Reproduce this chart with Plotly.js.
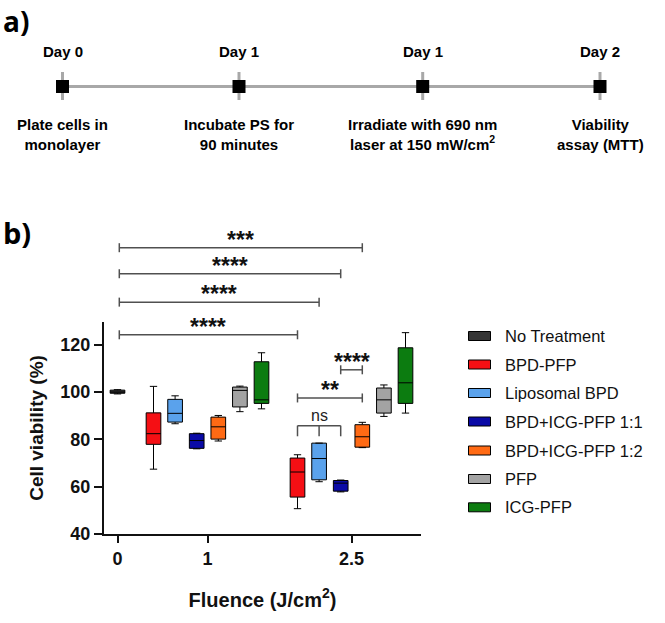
<!DOCTYPE html>
<html>
<head>
<meta charset="utf-8">
<script src="https://cdn.plot.ly/plotly-3.0.1.min.js"></script>
<style>html,body{margin:0;padding:0;background:#fff;}#chart{width:665px;height:623px;}</style>
</head>
<body>
<div id="chart"></div>
<script>
// ---------------- DATA ----------------
const fluenceLabels = ["0", "1", "2.5"];
const seriesNames = ["No Treatment", "BPD-PFP", "Liposomal BPD", "BPD+ICG-PFP 1:1", "BPD+ICG-PFP 1:2", "PFP", "ICG-PFP"];
// Which fluence each series was measured at (index into fluenceLabels)
const seriesFluences = [[0], [1, 2], [1, 2], [1, 2], [1, 2], [1, 2], [1, 2]];
// Five-number summaries of cell viability (%), one value per fluence listed above
const lowerWhisker = [[99.2], [67.4, 50.7], [86.6, 62.1], [76.0, 57.8], [79.3, 76.5], [91.7, 89.7], [92.9, 91.1]];
const quartile1    = [[99.5], [77.9, 55.6], [87.3, 62.9], [76.2, 58.1], [80.1, 76.7], [93.7, 91.1], [95.2, 95.2]];
const medians      = [[100.0], [82.4, 66.2], [91.0, 71.9], [79.5, 61.5], [85.3, 81.1], [100.7, 96.7], [96.7, 103.9]];
const quartile3    = [[100.8], [91.2, 72.1], [96.9, 78.4], [82.4, 62.6], [89.4, 86.2], [102.1, 101.7], [112.8, 118.7]];
const upperWhisker = [[101.0], [102.4, 73.5], [98.4, 78.4], [82.6, 62.8], [90.1, 87.2], [102.5, 103.0], [116.6, 125.1]];
// Significance comparisons: [seriesA, fluenceA], [seriesB, fluenceB], label
const sigFrom   = [[0, 0], [0, 0], [0, 0], [0, 0], [3, 2], [1, 2]];
const sigTo     = [[4, 2], [3, 2], [2, 2], [1, 2], [4, 2], [4, 2]];
const sigLabels = ["***", "****", "****", "****", "****", "**"];
const nsMembers = [[1, 2], [2, 2], [3, 2]];
const nsLabel = "ns";
// Timeline (panel a)
const timelineDays  = ["Day 0", "Day 1", "Day 1", "Day 2"];
const timelineSteps = ["Plate cells in<br>monolayer", "Incubate PS for<br>90 minutes", "Irradiate with 690 nm<br>laser at 150 mW/cm<sup>2</sup>", "Viability<br>assay (MTT)"];
const xTitle = "Fluence (J/cm<sup>2</sup>)";
const yTitle = "Cell viability (%)";
const yTicks = [40, 60, 80, 100, 120];

// ---------------- STYLE ----------------
const colors = ["#353535", "#f50f14", "#5aa2ec", "#0a0aa6", "#ff6a14", "#a3a3a3", "#0c7c10"];
const FONT = "Liberation Sans, Arial, sans-serif";
const W = 665, H = 623, L = 104, R = 421, T = 322, B = 534;
const slotPx = 21.6, originPx = 117.5, groupGap = 5 / 3;
const xRange = [(L - originPx) / slotPx, (R - originPx) / slotPx];
const yRange = [40, 129.6];
const bracketLevels = [161, 150, 138, 124.2, 109.4, 97.5];
const nsLevel = 85.8, nsDrop = 81.3;

// position (slot units) of a series at a fluence
function pos(s, f) {
  if (f === 0) return 0;
  const start = f === 1 ? groupGap : groupGap + 5 + groupGap;
  return start + (s - 1);
}
function groupCenter(f) { return f === 0 ? 0 : pos(1, f) + 2.5; }
const xp = v => (v - xRange[0]) / (xRange[1] - xRange[0]);
const yp = v => (v - yRange[0]) / (yRange[1] - yRange[0]);
const pxX = px => (px - L) / (R - L);
const pxY = py => (B - py) / (B - T);
const dyPx = px => px / (B - T);

// ---------------- TRACES ----------------
const traces = seriesNames.map((name, s) => ({
  type: "box",
  name: name,
  x: seriesFluences[s].map(f => pos(s, f)),
  q1: quartile1[s], median: medians[s], q3: quartile3[s],
  lowerfence: lowerWhisker[s], upperfence: upperWhisker[s],
  boxpoints: false,
  width: 0.68,
  whiskerwidth: 0.5,
  fillcolor: colors[s],
  line: {color: "#000", width: 1},
  showlegend: false,
  hoverinfo: "skip"
}));

const shapes = [], annotations = [];
const grayLine = {color: "#505050", width: 1.5};

// significance brackets
sigLabels.forEach((lab, i) => {
  const x0 = xp(pos(sigFrom[i][0], sigFrom[i][1])) + (i < 4 ? pxX(119.3) - xp(0) : 0);
  const x1 = xp(pos(sigTo[i][0], sigTo[i][1]));
  const y = yp(bracketLevels[i]);
  const t = dyPx(4.5);
  shapes.push({type: "line", xref: "paper", yref: "paper", x0: x0, x1: x1, y0: y, y1: y, line: grayLine});
  shapes.push({type: "line", xref: "paper", yref: "paper", x0: x0, x1: x0, y0: y - t, y1: y + t, line: grayLine});
  shapes.push({type: "line", xref: "paper", yref: "paper", x0: x1, x1: x1, y0: y - t, y1: y + t, line: grayLine});
  annotations.push({xref: "paper", yref: "paper", x: (x0 + x1) / 2, y: y, yanchor: "bottom", xanchor: "center",
    yshift: -7, text: lab, showarrow: false, font: {family: FONT, size: 23, color: "#111", weight: 700}});
});
// ns bracket
{
  const xs = nsMembers.map(m => xp(pos(m[0], m[1])));
  const y = yp(nsLevel), yd = yp(nsDrop);
  shapes.push({type: "line", xref: "paper", yref: "paper", x0: xs[0], x1: xs[xs.length - 1], y0: y, y1: y, line: grayLine});
  xs.forEach(x => shapes.push({type: "line", xref: "paper", yref: "paper", x0: x, x1: x, y0: y, y1: yd, line: grayLine}));
  annotations.push({xref: "paper", yref: "paper", x: xs[1], y: y, yanchor: "bottom", xanchor: "center", yshift: 0,
    text: nsLabel, showarrow: false, font: {family: FONT, size: 16, color: "#222"}});
}

// manual legend
const legY = [336, 364.5, 393, 421.5, 450.5, 479, 507.3];
seriesNames.forEach((name, s) => {
  shapes.push({type: "rect", xref: "paper", yref: "paper", x0: pxX(468.5), x1: pxX(490.5),
    y0: pxY(legY[s] + 4.5), y1: pxY(legY[s] - 4.5), fillcolor: colors[s], line: {color: "#000", width: 1}});
  annotations.push({xref: "paper", yref: "paper", x: pxX(503), y: pxY(legY[s]), xanchor: "left", yanchor: "middle",
    text: name, showarrow: false, font: {family: FONT, size: 16.5, color: "#111"}});
});

// timeline (panel a)
const tlX = [62.5, 239, 422.7, 600];
const tlY = 86.5;
shapes.push({type: "line", xref: "paper", yref: "paper", x0: pxX(tlX[0]), x1: pxX(tlX[3]), y0: pxY(tlY), y1: pxY(tlY),
  line: {color: "#a8a8a8", width: 3}});
tlX.forEach((x, i) => {
  shapes.push({type: "line", xref: "paper", yref: "paper", x0: pxX(x), x1: pxX(x), y0: pxY(72), y1: pxY(100),
    line: {color: "#a8a8a8", width: 3}});
  shapes.push({type: "rect", xref: "paper", yref: "paper", x0: pxX(x - 6.5), x1: pxX(x + 6.5), y0: pxY(tlY + 6.5), y1: pxY(tlY - 6.5),
    fillcolor: "#000", line: {width: 0}});
  annotations.push({xref: "paper", yref: "paper", x: pxX(x), y: pxY(51.5), xanchor: "center", yanchor: "middle",
    text: timelineDays[i], showarrow: false, font: {family: FONT, size: 15, color: "#000", weight: 700}});
  annotations.push({xref: "paper", yref: "paper", x: pxX(x), y: pxY(134), xanchor: "center", yanchor: "middle",
    text: timelineSteps[i], showarrow: false, font: {family: FONT, size: 15, color: "#000", weight: 700}});
});

// panel letters
annotations.push({xref: "paper", yref: "paper", x: pxX(1), y: pxY(0), xanchor: "left", yanchor: "top",
  text: "a)", showarrow: false, font: {family: "Open Sans, sans-serif", size: 28, color: "#000", weight: 700}});
annotations.push({xref: "paper", yref: "paper", x: pxX(1), y: pxY(232), xanchor: "left", yanchor: "middle",
  text: "b)", showarrow: false, font: {family: "Open Sans, sans-serif", size: 29, color: "#000", weight: 700}});

const layout = {
  width: W, height: H,
  margin: {l: L, r: W - R, t: T, b: H - B, pad: 0},
  paper_bgcolor: "#fff", plot_bgcolor: "#fff",
  showlegend: false,
  boxmode: "overlay",
  font: {family: FONT, color: "#111"},
  xaxis: {
    range: xRange, showgrid: false, zeroline: false,
    showline: true, linecolor: "#111", linewidth: 2,
    ticks: "outside", ticklen: 7, tickwidth: 2, tickcolor: "#111",
    tickvals: fluenceLabels.map((_, f) => groupCenter(f)), ticktext: fluenceLabels,
    tickfont: {family: FONT, size: 18, color: "#111", weight: 700},
    title: {text: xTitle, standoff: 25, font: {family: FONT, size: 20, color: "#111", weight: 700}}
  },
  yaxis: {
    range: yRange, showgrid: false, zeroline: false,
    showline: true, linecolor: "#111", linewidth: 2,
    ticks: "outside", ticklen: 8, tickwidth: 2, tickcolor: "#111",
    tickvals: yTicks, ticktext: yTicks.map(String),
    tickfont: {family: FONT, size: 18, color: "#111", weight: 700},
    title: {text: yTitle, standoff: 12, font: {family: FONT, size: 19, color: "#111", weight: 700}}
  },
  shapes: shapes,
  annotations: annotations
};

Plotly.newPlot("chart", traces, layout, {staticPlot: true, displayModeBar: false});
</script>
</body>
</html>
